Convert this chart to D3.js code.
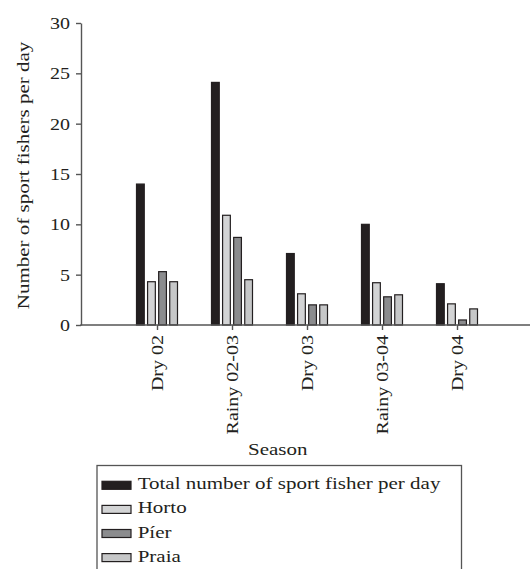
<!DOCTYPE html>
<html>
<head>
<meta charset="utf-8">
<script src="https://cdn.jsdelivr.net/npm/d3@7"></script>
<style>
  html, body { margin: 0; padding: 0; background: #fff; }
  svg { display: block; }
  text { font-family: "Liberation Serif", "Times New Roman", serif; fill: #231f20; }
</style>
</head>
<body>
<svg id="chart" width="530" height="569"></svg>
<script>
const seasons = ["Dry 02", "Rainy 02-03", "Dry 03", "Rainy 03-04", "Dry 04"];
const seriesNames = ["Total number of sport fisher per day", "Horto", "Píer", "Praia"];
const totalValues = [14.0, 24.1, 7.1, 10.0, 4.1];
const hortoValues = [4.3, 10.9, 3.1, 4.2, 2.1];
const pierValues  = [5.3, 8.7, 2.0, 2.8, 0.5];
const praiaValues = [4.3, 4.5, 2.0, 3.0, 1.6];
const yTicks = [0, 5, 10, 15, 20, 25, 30];
const colors = ["#231f20", "#d3d4d5", "#8b8c8e", "#c6c7c8"];

const series = [totalValues, hortoValues, pierValues, praiaValues];
const K = 0.8; // vertical glyph compression of the reference typeface

const svg = d3.select("#chart");

const y = d3.scaleLinear().domain([0, 30]).range([325, 23]);
const x = d3.scalePoint().domain(seasons).range([82, 532]).padding(1);
const xs = d3.scaleBand().domain(d3.range(4)).range([-20.5, 20.5]).paddingInner(0.3).paddingOuter(0);

// Bars
seasons.forEach((s, i) => {
  const g = svg.append("g").attr("transform", `translate(${x(s)},0)`);
  series.forEach((vals, j) => {
    g.append("rect")
      .attr("x", xs(j))
      .attr("y", y(vals[i]))
      .attr("width", xs.bandwidth())
      .attr("height", y(0) - y(vals[i]))
      .attr("fill", colors[j])
      .attr("stroke", "#231f20")
      .attr("stroke-width", 1.2);
  });
});

// Y axis
const yAxis = svg.append("g").attr("transform", "translate(81,0)")
  .call(d3.axisLeft(y).tickValues(yTicks).tickSize(5).tickSizeOuter(0).tickPadding(11));
yAxis.selectAll("path, line").attr("stroke", "#555").attr("stroke-width", 1.4);
yAxis.selectAll("text")
  .attr("font-size", 20)
  .attr("font-family", "Liberation Serif")
  .attr("fill", "#231f20")
  .attr("x", null).attr("dy", "0.34em")
  .attr("transform", `translate(-11,0) scale(1,${K})`);

// X axis
const xAxis = svg.append("g").attr("transform", "translate(0,325)")
  .call(d3.axisBottom(x).tickSize(5).tickSizeOuter(0));
xAxis.select(".domain").remove();
xAxis.selectAll("line").attr("stroke", "#555").attr("stroke-width", 1.4);
xAxis.selectAll("text")
  .attr("font-size", 20)
  .attr("font-family", "Liberation Serif")
  .attr("fill", "#231f20")
  .attr("x", null).attr("y", null).attr("dy", null)
  .attr("text-anchor", "end")
  .attr("transform", `translate(5,10) rotate(-90) scale(1,${K})`);
svg.append("line")
  .attr("x1", 80.3).attr("x2", 530)
  .attr("y1", y(0)).attr("y2", y(0))
  .attr("stroke", "#555").attr("stroke-width", 1.4);

// Axis titles
svg.append("text")
  .attr("text-anchor", "middle")
  .attr("font-size", 21)
  .attr("transform", `translate(29,175.5) rotate(-90) scale(1,${K})`)
  .text("Number of sport fishers per day");

svg.append("text")
  .attr("text-anchor", "middle")
  .attr("font-size", 21)
  .attr("transform", `translate(277.7,455) scale(1,${K})`)
  .text("Season");

// Legend
const legend = svg.append("g");
legend.append("rect")
  .attr("x", 97).attr("y", 465.5)
  .attr("width", 364.5).attr("height", 130)
  .attr("fill", "none").attr("stroke", "#555").attr("stroke-width", 1.3);
seriesNames.forEach((name, j) => {
  const by = 489.3 + 24.1 * j;
  legend.append("rect")
    .attr("x", 102).attr("y", by - 8)
    .attr("width", 29).attr("height", 8)
    .attr("fill", colors[j]).attr("stroke", "#231f20").attr("stroke-width", 1.2);
  legend.append("text")
    .attr("font-size", 21)
    .attr("transform", `translate(137.7,${by}) scale(1,${K})`)
    .text(name);
});
</script>
</body>
</html>
